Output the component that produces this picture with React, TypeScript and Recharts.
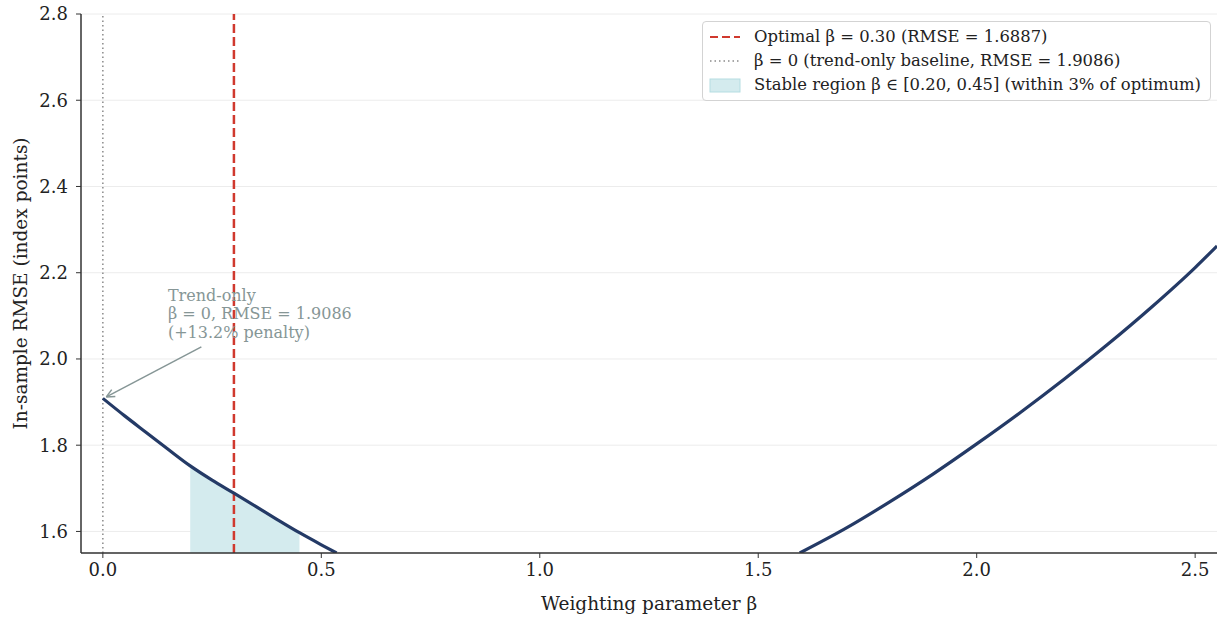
import {
  Area,
  CartesianGrid,
  ComposedChart,
  Line,
  ReferenceDot,
  ReferenceLine,
  XAxis,
  YAxis,
} from "recharts";

// RMSE curve (null = below the visible y range, line breaks there)
const beta = [0, 0.05, 0.1, 0.15, 0.2, 0.25, 0.3, 0.35, 0.4, 0.45, 0.5, 0.535, 1.0, 1.595, 1.7, 1.8, 1.9, 2.0, 2.1, 2.2, 2.3, 2.4, 2.5, 2.55];
const rmse = [1.9086, 1.868, 1.829, 1.79, 1.752, 1.719, 1.6887, 1.658, 1.627, 1.597, 1.569, 1.55, null, 1.55, 1.607, 1.668, 1.733, 1.803, 1.876, 1.953, 2.034, 2.12, 2.212, 2.262];
const stableRange = [0.2, 0.45];
const optimalBeta = 0.3;
const baselineBeta = 0;

const xTicks = [0, 0.5, 1.0, 1.5, 2.0, 2.5];
const yTicks = [1.6, 1.8, 2.0, 2.2, 2.4, 2.6, 2.8];

const legendLabels = [
  "Optimal β = 0.30 (RMSE = 1.6887)",
  "β = 0 (trend-only baseline, RMSE = 1.9086)",
  "Stable region β ∈ [0.20, 0.45] (within 3% of optimum)",
];
const noteLines = ["Trend-only", "β = 0, RMSE = 1.9086", "(+13.2% penalty)"];

const FONT = "DejaVu Serif";
const NAVY = "#243a66";
const RED = "#d0392e";
const GREY = "#8a8a8a";
const NOTE = "#869696";
const TEAL = "#d4ebee";

const data = beta.map((b, i) => ({
  beta: b,
  rmse: rmse[i],
  stable: b >= stableRange[0] && b <= stableRange[1] ? rmse[i] : null,
}));

function Arrow(props: any) {
  const { x1, y1, x2, y2 } = props;
  const a = Math.atan2(y2 - y1, x2 - x1);
  const h = 9;
  const w = 0.45;
  return (
    <g stroke={NOTE} strokeWidth={1.5} fill="none">
      <line x1={x1} y1={y1} x2={x2} y2={y2} />
      <line x1={x2} y1={y2} x2={x2 - h * Math.cos(a - w)} y2={y2 - h * Math.sin(a - w)} />
      <line x1={x2} y1={y2} x2={x2 - h * Math.cos(a + w)} y2={y2 - h * Math.sin(a + w)} />
    </g>
  );
}

function Note(props: any) {
  const { cx, cy } = props;
  return (
    <text x={cx} y={cy} fill={NOTE} fontFamily={FONT} fontSize={16}>
      {noteLines.map((l, i) => (
        <tspan key={i} x={cx} dy={i === 0 ? 0 : 18.5}>
          {l}
        </tspan>
      ))}
    </text>
  );
}

function LegendBox() {
  const handles = [
    <line key="a" x1={2} y1={8} x2={32} y2={8} stroke={RED} strokeWidth={2.2} strokeDasharray="8 4" />,
    <line key="b" x1={2} y1={8} x2={32} y2={8} stroke={GREY} strokeWidth={1.5} strokeDasharray="1.5 3" />,
    <rect key="c" x={2} y={2} width={30} height={13} fill={TEAL} stroke="#b5dde2" strokeWidth={1} />,
  ];
  return (
    <div
      style={{
        position: "absolute",
        top: 21,
        right: 7,
        border: "1px solid #d3d3d3",
        borderRadius: 4,
        background: "rgba(255,255,255,0.85)",
        padding: "3px 9px 3px 5px",
        fontFamily: FONT,
        fontSize: 16.4,
        color: "#222",
        lineHeight: "24px",
      }}
    >
      {legendLabels.map((l, i) => (
        <div key={i} style={{ display: "flex", alignItems: "center", whiteSpace: "nowrap" }}>
          <svg width={36} height={17} style={{ marginRight: 10 }}>
            {handles[i]}
          </svg>
          <span>{l}</span>
        </div>
      ))}
    </div>
  );
}

export default function App() {
  const axisTick = { fill: "#222", fontSize: 18, fontFamily: FONT };
  return (
    <div style={{ position: "fixed", left: 0, top: 0, width: 1218, height: 617, background: "#fff" }}>
      <ComposedChart width={1218} height={617} data={data} margin={{ top: 14, right: 1, bottom: 0, left: 0 }}>
        <CartesianGrid vertical={false} stroke="#ececec" />
        <XAxis
          type="number"
          dataKey="beta"
          domain={[-0.05, 2.55]}
          allowDataOverflow
          ticks={xTicks}
          tickFormatter={(v: number) => v.toFixed(1)}
          tick={axisTick}
          tickSize={5}
          tickMargin={5}
          height={64}
          axisLine={{ stroke: "#333", strokeWidth: 1.5 }}
          tickLine={{ stroke: "#333" }}
          label={{ value: "Weighting parameter β", position: "insideBottom", offset: 7, fill: "#222", fontSize: 18.5, fontFamily: FONT }}
        />
        <YAxis
          type="number"
          domain={[1.55, 2.8]}
          allowDataOverflow
          ticks={yTicks}
          tickFormatter={(v: number) => v.toFixed(1)}
          tick={axisTick}
          tickSize={5}
          tickMargin={8}
          width={81}
          axisLine={{ stroke: "#333", strokeWidth: 1.5 }}
          tickLine={{ stroke: "#333" }}
          label={{
            value: "In-sample RMSE (index points)",
            angle: -90,
            position: "insideLeft",
            offset: 20,
            fill: "#222",
            fontSize: 18.5,
            fontFamily: FONT,
            style: { textAnchor: "middle" },
          }}
        />
        <Area
          dataKey="stable"
          type="linear"
          baseValue={1.55}
          fill={TEAL}
          fillOpacity={1}
          stroke="#b5dde2"
          strokeWidth={1}
          isAnimationActive={false}
          connectNulls={false}
        />
        <ReferenceLine x={baselineBeta} stroke={GREY} strokeWidth={1.5} strokeDasharray="1.5 3" />
        <ReferenceLine x={optimalBeta} stroke={RED} strokeWidth={2.5} strokeDasharray="9 4" />
        <Line
          dataKey="rmse"
          type="monotone"
          stroke={NAVY}
          strokeWidth={3.2}
          dot={false}
          isAnimationActive={false}
          connectNulls={false}
        />
        <ReferenceLine
          segment={[
            { x: 0.2255, y: 2.028 },
            { x: 0.008, y: 1.912 },
          ]}
          shape={Arrow}
        />
        <ReferenceDot x={0.149} y={2.135} r={0} shape={Note} />
      </ComposedChart>
      <LegendBox />
    </div>
  );
}
